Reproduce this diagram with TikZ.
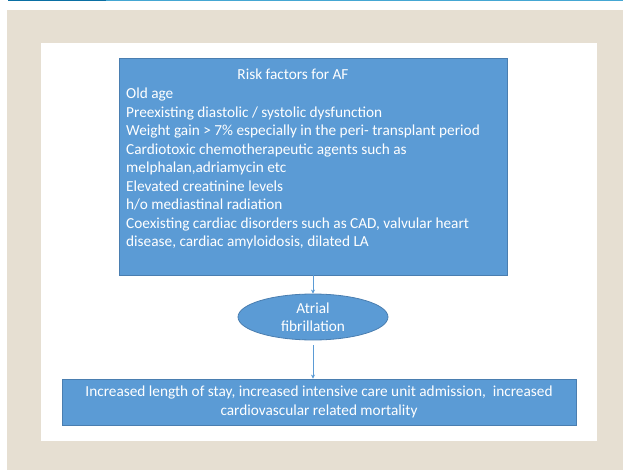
\documentclass[tikz,border=0pt]{standalone}
\usepackage{xcolor}
\usepackage{fontspec}
\setmainfont{Carlito}
\usetikzlibrary{arrows.meta,positioning,shapes.geometric}
\definecolor{panelbeige}{HTML}{E6DFD2}
\definecolor{boxblue}{HTML}{5B9BD5}
\definecolor{boxedge}{HTML}{4A7EB0}
\definecolor{ruledark}{HTML}{0A6FA3}
\definecolor{rulelight}{HTML}{45A7D3}
\newcommand{\bodyfont}{\fontsize{15.3}{18.5}\selectfont}

\begin{document}
\begin{tikzpicture}[x=1pt, y=-1pt,
        riskbox/.style={rectangle, draw=boxedge, line width=0.8pt, fill=boxblue, inner sep=0pt},
        eventnode/.style={ellipse, draw=boxedge, line width=0.8pt, fill=boxblue, inner sep=0pt,
            minimum width=150pt, minimum height=46pt, align=center, text=white, font=\bodyfont},
        linetext/.style={anchor=base west, inner sep=0pt, text=white, font=\bodyfont},
        flow/.style={draw=boxblue, line width=0.6pt, -{Stealth[length=4pt, width=4pt]}}
    ]
        \useasboundingbox (0,0) rectangle (623,470);

        % page frame
        \fill[panelbeige] (7,10) rectangle (623,470);
        \fill[white] (41,43) rectangle (597,441);
        \draw[ruledark, line width=1.2pt] (8,0.6) -- (106,0.6);
        \draw[rulelight, line width=1.2pt] (106,0.6) -- (623,0.6);

        % risk factors
        \node[riskbox, minimum width=388pt, minimum height=217pt] (risks) at (313,166.5) {};
        \node[linetext, anchor=base] (riskstitle) at (293,80) {Risk factors for AF};
        \foreach \i/\y/\t in {1/99/{Old age},
                2/117.5/{Preexisting diastolic / systolic dysfunction},
                3/136/{Weight gain > 7\% especially in the peri- transplant period},
                4/154.5/{Cardiotoxic chemotherapeutic agents such as},
                5/173/{melphalan,adriamycin etc},
                6/191.5/{Elevated creatinine levels},
                7/210/{h/o mediastinal radiation},
                8/228.5/{Coexisting cardiac disorders such as CAD, valvular heart},
                9/247/{disease, cardiac amyloidosis, dilated LA}}
            \node[linetext] (riskline\i) at (126,\y) {\t};

        % atrial fibrillation
        \node[eventnode] (afib) at (313,317) {Atrial\\fibrillation};

        % outcomes
        \node[riskbox, minimum width=514pt, minimum height=46pt, align=center, text=white, font=\bodyfont]
            (outcome) at (319,402) {Increased length of stay, increased intensive care unit admission,\ \ increased\\cardiovascular related mortality};

        \draw[flow] (risks.south) -- (afib.north);
        \draw[flow, shorten <=5pt] (afib.south) -- (afib.south |- outcome.north);
    \end{tikzpicture}
\end{document}
